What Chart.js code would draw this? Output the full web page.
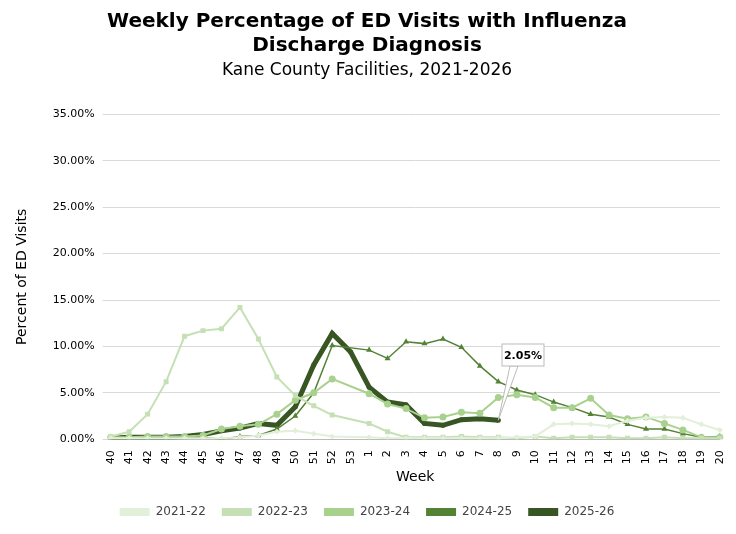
<!DOCTYPE html>
<html><head><meta charset="utf-8">
<script src="https://cdn.jsdelivr.net/npm/chart.js@4"></script>
<style>html,body{margin:0;background:#fff}#wrap{width:736px;height:534px}</style>
</head><body><div id="wrap"><canvas id="c"></canvas></div>
<script>
const weeks = ['40','41','42','43','44','45','46','47','48','49','50','51','52','53','1','2','3','4','5','6','7','8','9','10','11','12','13','14','15','16','17','18','19','20'];
const s2122 = [0.1,0.1,0.1,0.1,0.1,0.1,0.1,0.2,0.4,0.8,0.9,0.6,0.3,null,0.2,0.1,0.1,0.1,0.1,0.1,0.1,0.1,0.2,0.3,1.6,1.7,1.6,1.4,2.0,2.3,2.4,2.3,1.6,1.0];
const s2223 = [0.3,0.8,2.7,6.2,11.1,11.7,11.9,14.2,10.8,6.7,4.7,3.6,2.6,null,1.7,0.8,0.2,0.2,0.2,0.3,0.2,0.2,0.1,0.3,0.1,0.2,0.2,0.2,0.1,0.1,0.2,0.1,0.1,0.1];
const s2324 = [0.2,0.2,0.3,0.3,0.3,0.4,1.1,1.4,1.6,2.7,4.2,5.0,6.5,null,4.9,3.8,3.3,2.3,2.4,2.9,2.8,4.5,4.8,4.5,3.4,3.4,4.4,2.6,2.2,2.4,1.7,1.0,0.2,0.2];
const s2425 = [0.0,0.0,0.0,0.0,0.1,0.2,0.0,0.3,0.4,1.1,2.5,5.0,10.1,null,9.6,8.7,10.5,10.3,10.8,9.9,7.9,6.2,5.3,4.8,4.0,3.4,2.7,2.4,1.6,1.1,1.1,0.6,0.2,0.3];
const s2526 = [0.1,0.2,0.2,0.2,0.3,0.5,0.9,1.2,1.7,1.5,3.5,8.0,11.4,9.4,5.6,4.0,3.7,1.7,1.5,2.1,2.2,2.05];
const yTicks = [0,5,10,15,20,25,30,35];

function ds(label, data, color, style, w, r) {
  return {label, data, borderColor: color, backgroundColor: color, pointStyle: style,
    borderWidth: w, pointRadius: r, pointBorderWidth: 0, tension: 0, spanGaps: true};
}

const callout = {
  id: 'callout',
  afterDatasetsDraw(chart) {
    const meta = chart.getDatasetMeta(4);
    const p = meta.data[s2526.length - 1];
    const ctx = chart.ctx;
    const bx = 502, by = 344, bw = 42, bh = 22;
    ctx.save();
    ctx.strokeStyle = '#bbb'; ctx.fillStyle = '#fff'; ctx.lineWidth = 1;
    ctx.beginPath(); ctx.moveTo(p.x, p.y); ctx.lineTo(bx + 8, by + bh); ctx.lineTo(bx + 16, by + bh); ctx.closePath();
    ctx.fill(); ctx.stroke();
    ctx.fillRect(bx, by, bw, bh); ctx.strokeRect(bx, by, bw, bh);
    ctx.fillStyle = '#000'; ctx.font = 'bold 11px "DejaVu Sans"'; ctx.textAlign = 'center'; ctx.textBaseline = 'middle';
    ctx.fillText(s2526[s2526.length - 1].toFixed(2) + '%', bx + bw / 2, by + bh / 2 + 1);
    ctx.restore();
  }
};

new Chart(document.getElementById('c'), {
  type: 'line',
  data: {
    labels: weeks,
    datasets: [
      ds('2021-22', s2122, '#e2efd9', 'rectRot', 2, 3),
      ds('2022-23', s2223, '#c5e0b4', 'rect', 2, 3.5),
      ds('2023-24', s2324, '#a9d18e', 'circle', 2, 3.5),
      ds('2024-25', s2425, '#548235', 'triangle', 1.5, 3.5),
      ds('2025-26', s2526, '#375623', 'circle', 5, 2.5)
    ]
  },
  options: {
    responsive: true, maintainAspectRatio: false, animation: false,
    layout: {padding: {left: 10, right: 12, top: 6, bottom: 6}},
    plugins: {
      title: {display: true, text: ['Weekly Percentage of ED Visits with Influenza', 'Discharge Diagnosis'],
        color: '#000', font: {family: 'DejaVu Sans', size: 20, weight: 'bold'}, padding: {top: 4, bottom: 0}, lineHeight: 1.1},
      subtitle: {display: true, text: 'Kane County Facilities, 2021-2026', color: '#000',
        font: {family: 'DejaVu Sans', size: 17}, padding: {top: 2, bottom: 34}},
      legend: {position: 'bottom', labels: {color: '#444', boxWidth: 30, boxHeight: 8,
        font: {family: 'DejaVu Sans', size: 12}, padding: 16,
        generateLabels(chart) {
          return chart.data.datasets.map((d, i) => ({text: d.label, strokeStyle: d.borderColor, fillStyle: d.borderColor,
            lineWidth: 0, datasetIndex: i, fontColor: '#444'}));
        }}},
      tooltip: {enabled: false}
    },
    scales: {
      x: {title: {display: true, text: 'Week', color: '#000', font: {family: 'DejaVu Sans', size: 14}, padding: {top: 2}},
        grid: {display: false}, border: {color: '#bbb'},
        ticks: {color: '#000', font: {family: 'DejaVu Sans', size: 11}, maxRotation: 90, minRotation: 90, autoSkip: false}},
      y: {min: 0, max: 35, title: {display: true, text: 'Percent of ED Visits', color: '#000', font: {family: 'DejaVu Sans', size: 14}, padding: {bottom: 14}},
        grid: {color: '#d9d9d9'}, border: {display: false},
        afterBuildTicks(axis) { axis.ticks = yTicks.map(v => ({value: v})); },
        ticks: {color: '#000', padding: 8, font: {family: 'DejaVu Sans', size: 11}, callback: v => v.toFixed(2) + '%'}}
    }
  },
  plugins: [callout]
});
</script></body></html>
